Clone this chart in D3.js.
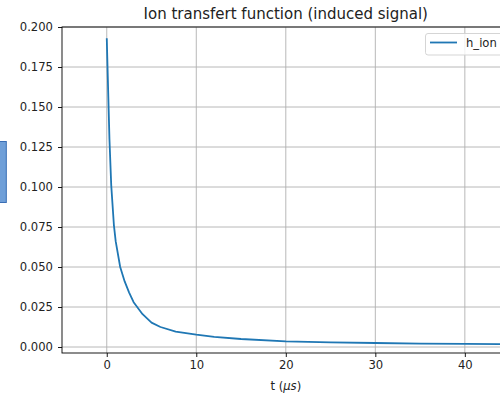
<!DOCTYPE html>
<html>
<head>
<meta charset="utf-8">
<script src="https://cdn.jsdelivr.net/npm/d3@7/dist/d3.min.js"></script>
<style>
  html, body { margin: 0; padding: 0; background: #fff; overflow: hidden; }
  svg { display: block; font-family: "DejaVu Sans", sans-serif; }
</style>
</head>
<body>
<svg id="chart" width="500" height="394"></svg>
<script>
// Ion transfer function h_ion(t), t in microseconds
const tValues = [0, 0.3, 0.5, 0.8, 1.0, 1.5, 2.0, 2.5, 3.0, 4.0, 5.0, 6.0, 7.7, 10, 12, 15, 20, 25, 30, 35, 40, 45, 50];
const hIon    = [0.193, 0.130, 0.101, 0.076, 0.066, 0.050, 0.041, 0.034, 0.028, 0.0205, 0.0152, 0.0125, 0.0096, 0.0077, 0.0063, 0.0050, 0.0035, 0.0029, 0.0025, 0.0021, 0.0019, 0.0017, 0.0015];
const xTicks = [0, 10, 20, 30, 40];
const yTicks = [0.000, 0.025, 0.050, 0.075, 0.100, 0.125, 0.150, 0.175, 0.200];
const seriesName = "h_ion";
const titleText = "Ion transfert function (induced signal)";

const svg = d3.select("#chart");
const plot = { left: 62, right: 509.6, top: 27, bottom: 353 };

const x = d3.scaleLinear().domain([-5, 45]).range([plot.left, plot.right]);
const y = d3.scaleLinear().domain([-0.00375, 0.2]).range([plot.bottom, plot.top]);

svg.append("defs").append("clipPath").attr("id", "plotClip")
  .append("rect")
  .attr("x", plot.left).attr("y", plot.top)
  .attr("width", plot.right - plot.left).attr("height", plot.bottom - plot.top);

// grid
const grid = svg.append("g").attr("stroke", "#b0b0b0").attr("stroke-width", 0.9);
grid.selectAll("line.vx").data(xTicks).join("line")
  .attr("x1", d => x(d)).attr("x2", d => x(d))
  .attr("y1", plot.top).attr("y2", plot.bottom);
grid.selectAll("line.hy").data(yTicks).join("line")
  .attr("x1", plot.left).attr("x2", plot.right)
  .attr("y1", d => y(d)).attr("y2", d => y(d));

// curve
const pts = tValues.map((t, i) => [t, hIon[i]]);
svg.append("path")
  .datum(pts)
  .attr("clip-path", "url(#plotClip)")
  .attr("fill", "none")
  .attr("stroke", "#1f77b4")
  .attr("stroke-width", 1.8)
  .attr("stroke-linejoin", "round")
  .attr("d", d3.line().x(d => x(d[0])).y(d => y(d[1])).curve(d3.curveLinear));

// axes
const xAxis = d3.axisBottom(x).tickValues(xTicks).tickFormat(d3.format("d")).tickSize(4).tickPadding(4);
const yAxis = d3.axisLeft(y).tickValues(yTicks).tickFormat(d3.format(".3f")).tickSize(4).tickPadding(5);

const gx = svg.append("g").attr("transform", `translate(0,${plot.bottom})`).call(xAxis);
const gy = svg.append("g").attr("transform", `translate(${plot.left},0)`).call(yAxis);
[gx, gy].forEach(g => {
  g.select(".domain").remove();
  g.selectAll(".tick line").attr("stroke", "#000").attr("stroke-width", 0.9);
  g.selectAll(".tick text").attr("fill", "#222").attr("font-size", "11.6px")
    .attr("font-family", "DejaVu Sans, sans-serif");
});

// frame
svg.append("rect")
  .attr("x", plot.left).attr("y", plot.top)
  .attr("width", plot.right - plot.left).attr("height", plot.bottom - plot.top)
  .attr("fill", "none").attr("stroke", "#000").attr("stroke-width", 0.9);

// title
svg.append("text")
  .attr("x", (plot.left + plot.right) / 2).attr("y", 18.5)
  .attr("text-anchor", "middle").attr("font-size", "15px").attr("fill", "#222")
  .text(titleText);

// x label
const xl = svg.append("text")
  .attr("x", (plot.left + plot.right) / 2).attr("y", 390)
  .attr("text-anchor", "middle").attr("font-size", "11.6px").attr("fill", "#222");
xl.append("tspan").text("t (");
xl.append("tspan").attr("font-style", "italic").text("μs");
xl.append("tspan").text(")");

// legend
const lg = svg.append("g");
lg.append("rect")
  .attr("x", 425.5).attr("y", 33.5).attr("width", 77).attr("height", 21.5).attr("rx", 2.5)
  .attr("fill", "#fff").attr("fill-opacity", 0.8).attr("stroke", "#d0d0d0").attr("stroke-width", 0.9);
lg.append("line")
  .attr("x1", 430).attr("x2", 457).attr("y1", 42.5).attr("y2", 42.5)
  .attr("stroke", "#1f77b4").attr("stroke-width", 1.8);
lg.append("text")
  .attr("x", 466).attr("y", 47).attr("font-size", "11.6px").attr("fill", "#222")
  .text(seriesName);

// side tab at left edge
svg.append("rect")
  .attr("x", -1).attr("y", 141.5).attr("width", 7.3).attr("height", 61)
  .attr("fill", "#6f9fd8").attr("stroke", "#3a6eb5").attr("stroke-width", 1);
</script>
</body>
</html>
